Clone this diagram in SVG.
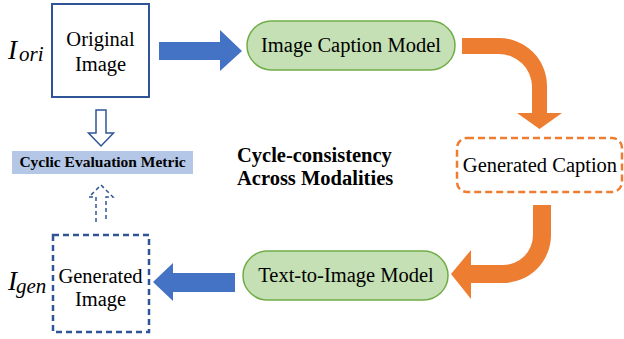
<svg xmlns="http://www.w3.org/2000/svg" width="624" height="339" viewBox="0 0 624 339">
<style>
text{font-family:'Liberation Serif','Times New Roman','DejaVu Serif',serif;fill:#000}
.lbl{font-size:20.5px;text-anchor:middle}
.b{font-weight:bold}
.it{font-style:italic}
.pill{fill:#c5e0b4;stroke:#70ad47;stroke-width:1.5}
.blue{fill:#4472c4}
.orange{fill:#ed7d31}
</style>
<rect width="624" height="339" fill="#fff"/>
<g id="connectors">
<path class="blue" d="M159,42 H220 V30 L242,51 L220,71 V60 H159 Z"/>
<path class="orange" d="M462,38 H499 A48,48 0 0 1 547,86 V113 H562 L539.5,129 L517,113 H532 V86 A33,33 0 0 0 499,54 H462 Z"/>
<path class="orange" d="M533,205 H551 V235 A48,48 0 0 1 503,283 H471 V299 L451,274 L471,250 V265 H503 A30,30 0 0 0 533,235 Z"/>
<path class="blue" d="M235,273 H173 V263 L153,282 L173,301 V292 H235 Z"/>
<path d="M96,110 H106 V133 H113.5 L101,146 L88.5,133 H96 Z" fill="#fff" stroke="#2f5597" stroke-width="1.5"/>
<path d="M96,222 V197 H89 L101,185 L113,197 H106 V222" fill="none" stroke="#2f5597" stroke-width="1.5" stroke-dasharray="4,3"/>
</g>
<g id="original-image">
<rect x="52" y="4" width="97" height="93" fill="#fff" stroke="#2f5597" stroke-width="2"/>
<text class="lbl" x="100.5" y="46">Original</text>
<text class="lbl" x="100.5" y="71">Image</text>
<text class="it" x="8" y="59" font-size="27">I</text>
<text class="it" x="19" y="61" font-size="21">ori</text>
</g>
<g id="image-caption-model">
<rect class="pill" x="247" y="21" width="208" height="49" rx="24.5"/>
<text class="lbl" x="351" y="52">Image Caption Model</text>
</g>
<g id="generated-caption">
<rect x="457" y="138" width="165" height="54" rx="10" fill="#fff" stroke="#ed7d31" stroke-width="2.5" stroke-dasharray="7,4"/>
<text class="lbl" x="540" y="172">Generated Caption</text>
</g>
<g id="text-to-image-model">
<rect class="pill" x="243" y="251" width="205" height="49" rx="24.5"/>
<text class="lbl" x="346" y="282">Text-to-Image Model</text>
</g>
<g id="generated-image">
<rect x="53" y="235" width="96" height="97" fill="#fff" stroke="#2f5597" stroke-width="2.5" stroke-dasharray="6,4"/>
<text class="lbl" x="100.5" y="283">Generated</text>
<text class="lbl" x="100.5" y="306">Image</text>
<text class="it" x="8" y="290" font-size="27">I</text>
<text class="it" x="16" y="293" font-size="21">gen</text>
</g>
<g id="cyclic-evaluation-metric">
<rect x="12" y="151" width="181" height="23" fill="#b4c7e7"/>
<text class="b" x="102.5" y="167" font-size="15.5" text-anchor="middle">Cyclic Evaluation Metric</text>
</g>
<g id="title">
<text class="b" x="237" y="162" font-size="20.5">Cycle-consistency</text>
<text class="b" x="237" y="185" font-size="20.5">Across Modalities</text>
</g>
</svg>
